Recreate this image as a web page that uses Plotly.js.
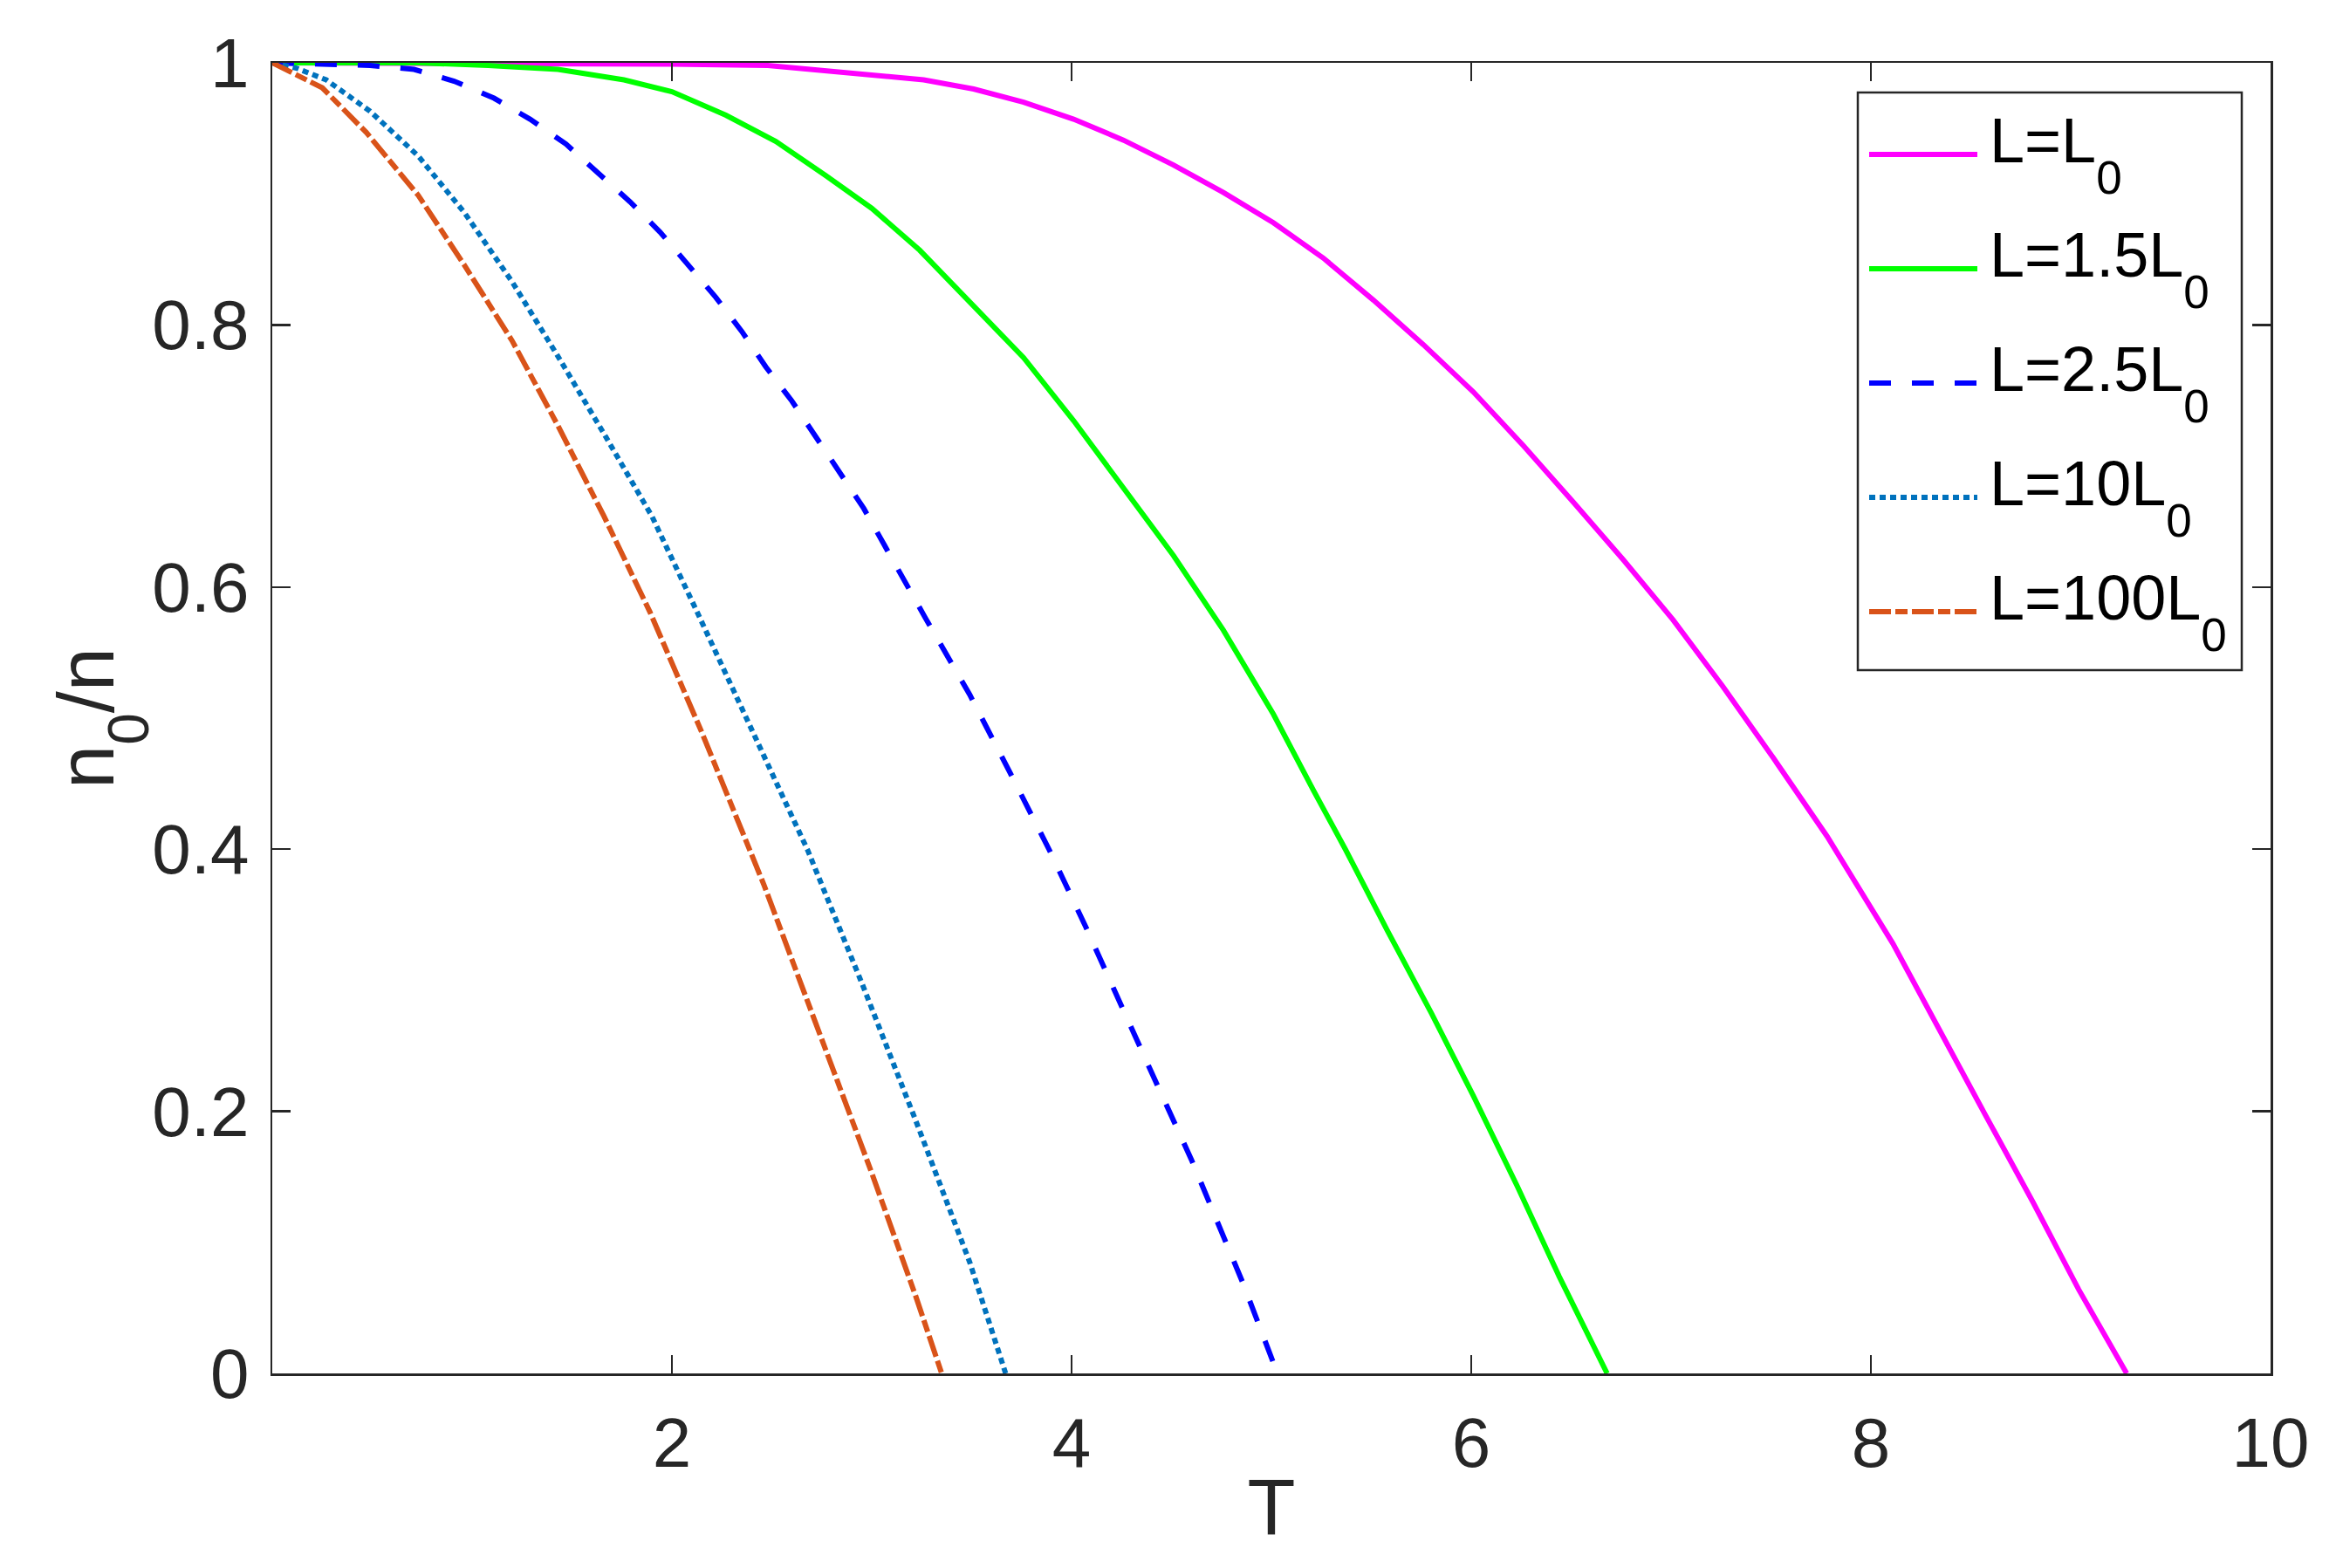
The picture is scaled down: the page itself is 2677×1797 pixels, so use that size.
<!DOCTYPE html>
<html>
<head>
<meta charset="utf-8">
<script src="https://cdn.plot.ly/plotly-3.0.1.min.js"></script>
<style>html,body{margin:0;padding:0;background:#fff;}#chart{width:2677px;height:1797px;}</style>
</head>
<body>
<div id="chart"></div>
<script>
// ---- data ----
var seriesLabels = ['L=L', 'L=1.5L', 'L=2.5L', 'L=10L', 'L=100L'];
var seriesSub = '0';

var T_L1 = [0, 0.5, 1.0, 1.5, 2.0, 2.48, 3.0, 3.26, 3.51, 3.76, 4.01, 4.26, 4.51, 4.76, 5.01, 5.26, 5.51, 5.76, 6.01, 6.26, 6.51, 6.76, 7.01, 7.26, 7.51, 7.78, 8.11, 8.34, 8.57, 8.81, 9.04, 9.28];
var n_L1 = [1, 1, 1, 1, 0.999, 0.998, 0.991, 0.987, 0.980, 0.970, 0.957, 0.941, 0.922, 0.901, 0.878, 0.851, 0.819, 0.785, 0.749, 0.708, 0.665, 0.621, 0.575, 0.524, 0.470, 0.410, 0.328, 0.264, 0.198, 0.131, 0.064, 0];

var T_L15 = [0, 0.5, 0.73, 1.08, 1.43, 1.76, 2.0, 2.27, 2.52, 2.77, 3.0, 3.24, 3.53, 3.76, 4.01, 4.26, 4.51, 4.76, 5.01, 5.21, 5.37, 5.58, 5.80, 6.01, 6.23, 6.44, 6.68];
var n_L15 = [1, 1, 1.0, 0.998, 0.995, 0.987, 0.978, 0.960, 0.940, 0.914, 0.889, 0.857, 0.811, 0.775, 0.727, 0.675, 0.624, 0.567, 0.503, 0.445, 0.400, 0.338, 0.275, 0.212, 0.143, 0.074, 0];

var T_L25 = [0, 0.25, 0.49, 0.71, 0.91, 1.11, 1.29, 1.47, 1.63, 1.79, 1.94, 2.08, 2.22, 2.35, 2.47, 2.60, 2.72, 2.84, 2.96, 3.27, 3.49, 3.69, 3.89, 4.07, 4.24, 4.42, 4.60, 4.69, 4.86, 5.03];
var n_L25 = [1, 0.999, 0.998, 0.995, 0.986, 0.973, 0.957, 0.938, 0.916, 0.894, 0.871, 0.846, 0.821, 0.795, 0.768, 0.742, 0.715, 0.687, 0.660, 0.576, 0.518, 0.459, 0.399, 0.341, 0.283, 0.223, 0.163, 0.130, 0.068, 0];

var T_L10 = [0, 0.12, 0.27, 0.49, 0.73, 0.96, 1.20, 1.43, 1.66, 1.90, 2.12, 2.37, 2.68, 2.95, 3.22, 3.49, 3.67];
var n_L10 = [1, 0.996, 0.987, 0.963, 0.929, 0.886, 0.833, 0.776, 0.717, 0.654, 0.583, 0.500, 0.399, 0.298, 0.193, 0.085, 0];

var T_L100 = [0, 0.25, 0.47, 0.73, 0.96, 1.20, 1.43, 1.66, 1.89, 2.15, 2.46, 2.73, 3.00, 3.22, 3.35];
var n_L100 = [1, 0.981, 0.947, 0.899, 0.846, 0.788, 0.723, 0.654, 0.581, 0.489, 0.373, 0.264, 0.153, 0.059, 0];

var xTickVals = [2, 4, 6, 8, 10];
var xTickText = ['2', '4', '6', '8', '10'];
var yTickVals = [0, 0.2, 0.4, 0.6, 0.8, 1];
var yTickText = ['0', '0.2', '0.4', '0.6', '0.8', '1'];

// ---- styles ----
var FONT = 'Liberation Sans, Arial, Helvetica, sans-serif';
var colors = ['#FF00FF', '#00FF00', '#0000FF', '#0072BD', '#D95319'];
var dashes = ['solid', 'solid', '25px,24px', '7px,5px', '25px,5px,14px,5px'];
var LW = 6;

// MATLAB-like subscript: lower and fairly large, no extra reset tspans
function lowSub(s, px, shift) {
  return '<span style="font-size:' + px + 'px;baseline-shift:-' + shift + 'px">' + s + '</span>';
}

var xs = [T_L1, T_L15, T_L25, T_L10, T_L100];
var ys = [n_L1, n_L15, n_L25, n_L10, n_L100];

var traces = [];
for (var i = 0; i < xs.length; i++) {
  traces.push({
    x: xs[i], y: ys[i], type: 'scatter', mode: 'lines',
    name: seriesLabels[i] + seriesSub,
    line: {color: colors[i], width: LW, dash: dashes[i]},
    showlegend: false
  });
}

// plot area in pixels
var W = 2677, H = 1797;
var L = 312, R = 2602, TOP = 72, BOT = 1574;
function px2x(p) { return (p - L) / (R - L); }
function py2y(p) { return (BOT - p) / (BOT - TOP); }

// custom legend (long sample lines like the reference)
var shapes = [];
var annotations = [];
var box = {x0: 2129, x1: 2569, y0: 106, y1: 768};
shapes.push({type: 'rect', xref: 'paper', yref: 'paper',
  x0: px2x(box.x0), x1: px2x(box.x1), y0: py2y(box.y1), y1: py2y(box.y0),
  line: {color: '#262626', width: 2.5}, fillcolor: '#ffffff', layer: 'above'});
var rowY0 = 177, rowStep = 131;
for (var k = 0; k < seriesLabels.length; k++) {
  var ry = rowY0 + k * rowStep;
  shapes.push({type: 'line', xref: 'paper', yref: 'paper',
    x0: px2x(2142), x1: px2x(2266), y0: py2y(ry), y1: py2y(ry),
    line: {color: colors[k], width: LW, dash: dashes[k]}, layer: 'above'});
  annotations.push({xref: 'paper', yref: 'paper', x: px2x(2278), y: py2y(ry),
    xanchor: 'left', yanchor: 'middle', showarrow: false,
    text: seriesLabels[k] + lowSub(seriesSub, 53, 36),
    font: {family: FONT, size: 72, color: '#000000'}});
}

var axisCommon = {
  showline: true, mirror: 'ticks', linecolor: '#262626', linewidth: 2.5,
  ticks: 'inside', ticklen: 21, tickwidth: 2.5, tickcolor: '#262626',
  showgrid: false, zeroline: false,
  tickfont: {family: FONT, size: 80, color: '#262626'}
};

var layout = {
  width: W, height: H,
  margin: {l: L, r: W - R, t: TOP, b: H - BOT, pad: 0},
  paper_bgcolor: '#ffffff', plot_bgcolor: '#ffffff',
  xaxis: Object.assign({}, axisCommon, {
    range: [0, 10], tickmode: 'array', tickvals: xTickVals, ticktext: xTickText,
    ticklabelstandoff: 8,
    title: {text: 'T', font: {family: FONT, size: 90, color: '#262626'}, standoff: 0}
  }),
  yaxis: Object.assign({}, axisCommon, {
    range: [0, 1], tickmode: 'array', tickvals: yTickVals, ticktext: yTickText,
    ticklabelstandoff: 8,
    title: {text: 'n' + lowSub('0', 66, 40) + '/n', font: {family: FONT, size: 90, color: '#262626'}, standoff: 14}
  }),
  shapes: shapes,
  annotations: annotations,
  showlegend: false
};

Plotly.newPlot('chart', traces, layout, {staticPlot: true, displayModeBar: false});
</script>
</body>
</html>
